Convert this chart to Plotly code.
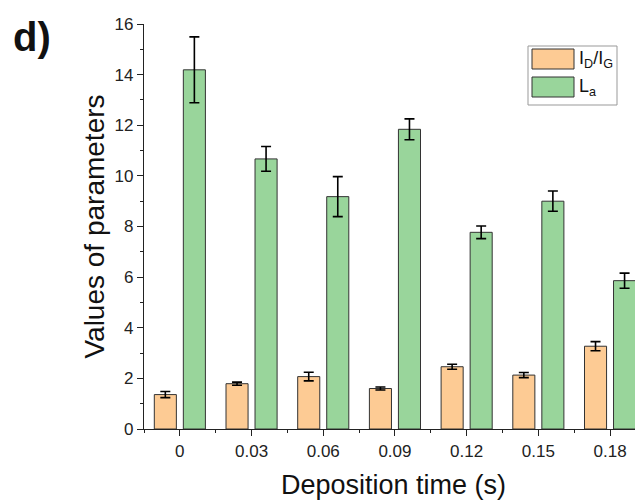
import plotly.graph_objects as go

categories = ["0", "0.03", "0.06", "0.09", "0.12", "0.15", "0.18"]
id_ig = [1.36, 1.79, 2.07, 1.60, 2.46, 2.13, 3.27]
id_ig_err = [0.12, 0.06, 0.17, 0.06, 0.10, 0.10, 0.18]
la = [14.19, 10.67, 9.18, 11.84, 7.77, 9.00, 5.86]
la_err = [1.30, 0.49, 0.79, 0.41, 0.25, 0.40, 0.30]
y_ticks = [0, 2, 4, 6, 8, 10, 12, 14, 16]

xpos = list(range(len(categories)))

# page body has an 8px margin; the figure is placed at (8, 8)
OFF = 8
W, H = 635, 493
L, R, T, B = 136, 0, 16, 72
pw, ph = W - L - R, H - T - B

def px(x):
    return (x - OFF - L) / pw

def py(y):
    return (H - B - (y - OFF)) / ph

ORANGE = "#FDCB94"
GREEN = "#99D59B"
EDGE = "#333333"
FONT = "Liberation Sans, Arial, sans-serif"
AX = "#222222"

fig = go.Figure()
fig.add_trace(go.Bar(
    x=xpos, y=id_ig, name="I<sub>D</sub>/I<sub>G</sub>",
    marker=dict(color=ORANGE, line=dict(color=EDGE, width=1)),
    error_y=dict(type="data", array=id_ig_err, color="black", thickness=1.6, width=5),
    showlegend=False,
))
fig.add_trace(go.Bar(
    x=xpos, y=la, name="L<sub>a</sub>",
    marker=dict(color=GREEN, line=dict(color=EDGE, width=1)),
    error_y=dict(type="data", array=la_err, color="black", thickness=1.6, width=5),
    showlegend=False,
))

xr = [-0.5, -0.5 + pw / 71.7]

fig.update_layout(
    width=W, height=H,
    margin=dict(l=L, r=R, t=T, b=B),
    paper_bgcolor="white", plot_bgcolor="white",
    barmode="group", bargap=0.19, bargroupgap=0.24,
    font=dict(family=FONT, size=17, color=AX),
    xaxis=dict(
        range=xr, tickmode="array", tickvals=xpos, ticktext=categories,
        ticks="outside", ticklen=6, tickwidth=1.2, tickcolor=AX, automargin=False,
        showline=True, linecolor=AX, linewidth=1.2, showgrid=False, zeroline=False,
        minor=dict(tickmode="linear", tick0=-0.5, dtick=1, ticks="outside", ticklen=3, tickcolor=AX, showgrid=False),
        tickfont=dict(family=FONT, size=17, color=AX),
        title=dict(text="Deposition time (s)", font=dict(family=FONT, size=27, color="#111"), standoff=15),
    ),
    yaxis=dict(
        range=[0, 16], tickmode="array", tickvals=y_ticks,
        ticks="outside", ticklen=6, tickwidth=1.2, tickcolor=AX, automargin=False,
        showline=True, linecolor=AX, linewidth=1.2, showgrid=False, zeroline=False,
        minor=dict(tickmode="linear", tick0=0, dtick=1, ticks="outside", ticklen=3, tickcolor=AX, showgrid=False),
        tickfont=dict(family=FONT, size=17, color=AX),
        title=dict(text="Values of parameters", font=dict(family=FONT, size=28, color="#111"), standoff=1),
    ),
    xaxis2=dict(
        overlaying="x", side="top", anchor="y", range=xr,
        tickmode="array", tickvals=xpos, showticklabels=False,
        ticks="inside", ticklen=5, tickwidth=1.2, tickcolor=AX,
        showline=True, linecolor=AX, linewidth=1.2, showgrid=False, zeroline=False,
        minor=dict(tickmode="linear", tick0=-0.5, dtick=1, ticks="inside", ticklen=4, tickcolor=AX, showgrid=False),
    ),
    yaxis2=dict(
        overlaying="y", side="right", anchor="x", range=[0, 16],
        tickmode="array", tickvals=y_ticks, showticklabels=False,
        ticks="inside", ticklen=5, tickwidth=1.2, tickcolor=AX,
        showline=True, linecolor=AX, linewidth=1.2, showgrid=False, zeroline=False,
        minor=dict(tickmode="linear", tick0=0, dtick=1, ticks="inside", ticklen=3, tickcolor=AX, showgrid=False),
    ),
)

# custom legend box with large swatches
fig.add_shape(type="rect", xref="paper", yref="paper",
              x0=px(528), x1=px(617), y0=py(105), y1=py(46),
              line=dict(color="#999999", width=1), fillcolor="white", layer="above")
fig.add_shape(type="rect", xref="paper", yref="paper",
              x0=px(532), x1=px(574), y0=py(69), y1=py(49),
              line=dict(color=EDGE, width=1), fillcolor=ORANGE, layer="above")
fig.add_shape(type="rect", xref="paper", yref="paper",
              x0=px(532), x1=px(574), y0=py(97), y1=py(77),
              line=dict(color=EDGE, width=1), fillcolor=GREEN, layer="above")
fig.add_annotation(xref="paper", yref="paper", x=px(577), y=py(59), xanchor="left", yanchor="middle",
                   text="I<sub>D</sub>/I<sub>G</sub>", showarrow=False, font=dict(family=FONT, size=18, color="#111"))
fig.add_annotation(xref="paper", yref="paper", x=px(577), y=py(87), xanchor="left", yanchor="middle",
                   text="L<sub>a</sub>", showarrow=False, font=dict(family=FONT, size=18, color="#111"))

# panel label
fig.add_annotation(xref="paper", yref="paper", x=px(11), y=py(37), xanchor="left", yanchor="middle",
                   text="<b>d)</b>", showarrow=False, font=dict(family=FONT, size=40, color="#111"))

fig.write_html("out.html")
